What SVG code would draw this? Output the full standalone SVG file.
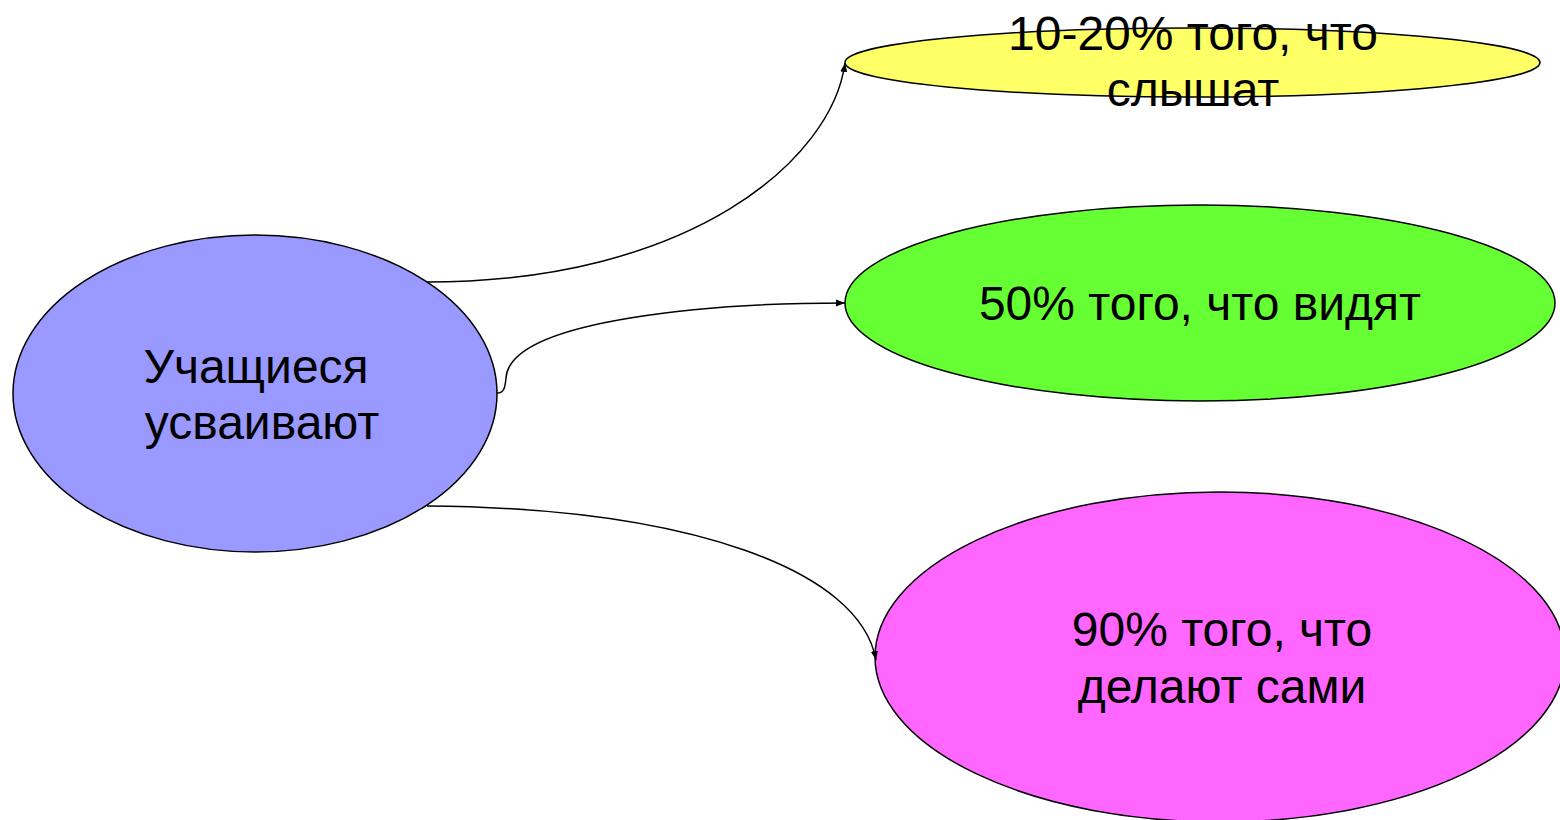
<svg xmlns="http://www.w3.org/2000/svg" width="1560" height="820" viewBox="0 0 1560 820">
<style>
.node{stroke:#000;stroke-width:1.5}
.t{font-family:"Liberation Sans",Arial,sans-serif;font-size:48px;fill:#000;text-anchor:middle}
.c{fill:none;stroke:#000;stroke-width:1.5}
</style>
<defs>
<marker id="arr" viewBox="0 0 10 10" refX="10" refY="5" markerWidth="9" markerHeight="9" markerUnits="userSpaceOnUse" orient="auto">
<path d="M0,1 L10,5 L0,9 z" fill="#000"/>
</marker>
</defs>
<rect width="1560" height="820" fill="#fff"/>
<g id="n-center">
<ellipse class="node" cx="255" cy="393.5" rx="242" ry="158.5" fill="#9999ff"/>
<text class="t" x="256" y="383">Учащиеся</text>
<text class="t" x="262" y="439">усваивают</text>
</g>
<g id="n-hear">
<ellipse class="node" cx="1192.5" cy="62.5" rx="347.5" ry="34.5" fill="#ffff66"/>
<text class="t" x="1193" y="50">10-20% того, что</text>
<text class="t" x="1193" y="106">слышат</text>
</g>
<g id="n-see">
<ellipse class="node" cx="1200" cy="303" rx="355" ry="98" fill="#66ff33"/>
<text class="t" x="1200" y="320">50% того, что видят</text>
</g>
<g id="n-do">
<ellipse class="node" cx="1220" cy="657" rx="345" ry="165" fill="#ff66ff"/>
<text class="t" x="1222" y="646">90% того, что</text>
<text class="t" x="1222" y="703">делают сами</text>
</g>
<g id="connectors">
<path class="c" d="M427,282 C690,282 832,160 845,63" marker-end="url(#arr)"/>
<path class="c" d="M497,393 C504,393 505,388 506,378 C510,318 720,303 845,303" marker-end="url(#arr)"/>
<path class="c" d="M427,506 C690,508 860,570 876,660" marker-end="url(#arr)"/>
</g>
</svg>
